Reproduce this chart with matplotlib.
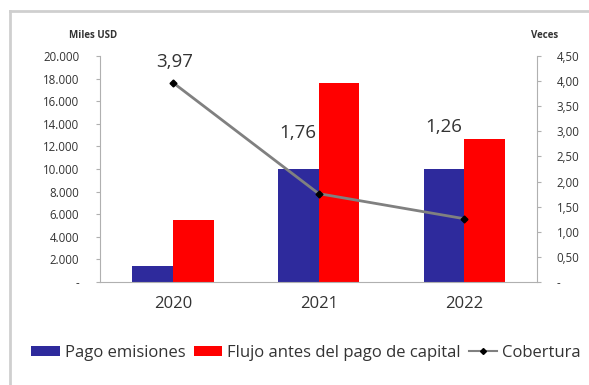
import numpy as np
import matplotlib
matplotlib.use("Agg")
import matplotlib.pyplot as plt
from matplotlib.lines import Line2D
from matplotlib.ticker import FuncFormatter

# datos
anios = ["2020", "2021", "2022"]
pago_emisiones = [1400, 10000, 10000]
flujo_antes_capital = [5500, 17600, 12700]
cobertura = [3.97, 1.76, 1.26]

AZUL = "#2E2A9C"
ROJO = "#FF0000"
GRIS = "#808080"
TEXTO = "#333333"

plt.rcParams["font.family"] = ["Open Sans", "DejaVu Sans"]

fig = plt.figure(figsize=(5.89, 3.85), dpi=100)
ax = fig.add_axes([0.170, 0.2675, 0.742, 0.587])
ax2 = ax.twinx()

x = np.arange(len(anios))
ancho = 0.28
ax.bar(x - ancho / 2, pago_emisiones, ancho, color=AZUL, label="Pago emisiones")
ax.bar(x + ancho / 2, flujo_antes_capital, ancho, color=ROJO,
       label="Flujo antes del pago de capital")

ax.set_xlim(-0.5, 2.5)
ax.set_ylim(0, 20000)
ax.set_yticks(np.arange(0, 20001, 2000))


def miles(v, pos):
    if v == 0:
        return "-"
    return f"{int(v):,}".replace(",", ".")


def veces(v, pos):
    if v == 0:
        return "-"
    return f"{v:.2f}".replace(".", ",")


ax.yaxis.set_major_formatter(FuncFormatter(miles))
ax.set_xticks(x)
ax.set_xticklabels(anios, fontsize=12, color=TEXTO)
ax.tick_params(axis="x", length=0, pad=10)
ax.tick_params(axis="y", length=3, color="#b0b0b0", labelsize=8.3,
               labelcolor=TEXTO, pad=12)
for lado in ["top", "right"]:
    ax.spines[lado].set_visible(False)
ax.spines["left"].set_color("#b0b0b0")
ax.spines["bottom"].set_color("#b0b0b0")

# línea de cobertura en eje secundario
ax2.plot(x, cobertura, color=GRIS, linewidth=2, marker="D", markersize=3.5,
         markerfacecolor="black", markeredgecolor="black")
ax2.set_ylim(0, 4.5)
ax2.set_yticks(np.arange(0, 4.51, 0.5))
ax2.yaxis.set_major_formatter(FuncFormatter(veces))
ax2.tick_params(axis="y", length=3, color="#b0b0b0", labelsize=8.3,
                labelcolor=TEXTO, pad=11)
for lado in ["top", "left", "bottom"]:
    ax2.spines[lado].set_visible(False)
ax2.spines["right"].set_color("#b0b0b0")

# etiquetas de cobertura
desplaz = [(2, 21), (-21, 61), (-21, 92)]
for xi, v, (dx, dy) in zip(x, cobertura, desplaz):
    ax2.annotate(f"{v:.2f}".replace(".", ","), (xi, v), xytext=(dx, dy),
                 textcoords="offset pixels", ha="center", va="center",
                 fontsize=13.5, color=TEXTO)

fig.text(93 / 589, 1 - 35 / 385, "Miles USD", fontsize=7, fontweight="bold",
         color=TEXTO, ha="center", va="center")
fig.text(545 / 589, 1 - 35 / 385, "Veces", fontsize=7, fontweight="bold",
         color=TEXTO, ha="center", va="center")

h1, l1 = ax.get_legend_handles_labels()
linea = Line2D([], [], color=GRIS, linewidth=1.5, marker="D", markersize=3,
               markerfacecolor="black", markeredgecolor="black")
fig.legend(h1 + [linea], l1 + ["Cobertura"], loc="center",
           bbox_to_anchor=(306 / 589, 1 - 353 / 385), ncol=3, frameon=False,
           fontsize=12, handlelength=1.7, handleheight=0.6, handletextpad=0.3,
           columnspacing=0.5, labelcolor=TEXTO)

# marco exterior
borde = "#cfcfcf"
fig.add_artist(Line2D([10 / 589, 1], [1 - 11 / 385, 1 - 11 / 385],
                      color=borde, linewidth=2, transform=fig.transFigure))
fig.add_artist(Line2D([10 / 589, 10 / 589], [0, 1 - 11 / 385],
                      color=borde, linewidth=2, transform=fig.transFigure))

fig.savefig("out.png", dpi=100)
